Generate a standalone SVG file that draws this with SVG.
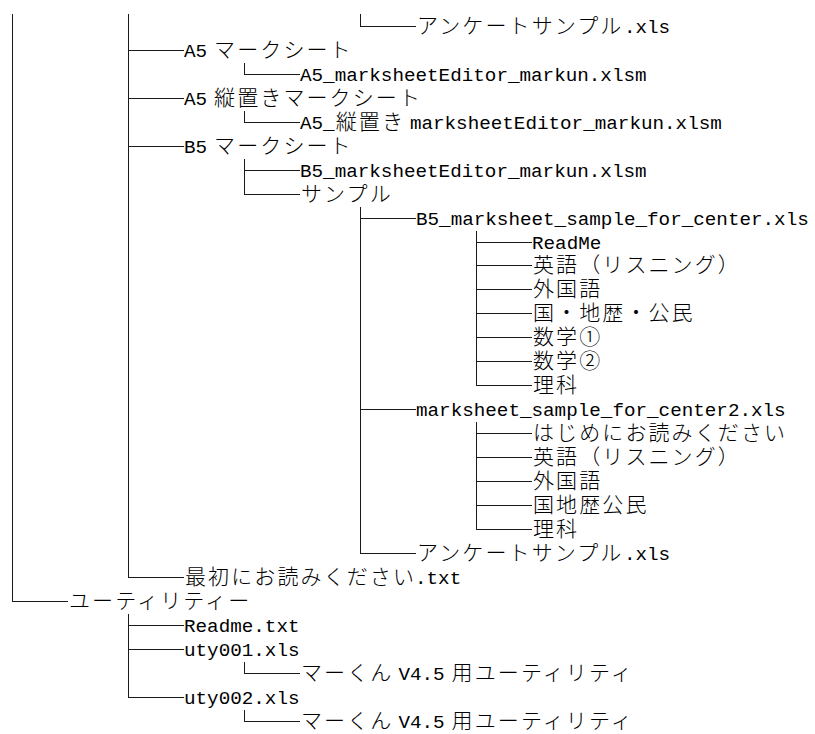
<svg xmlns="http://www.w3.org/2000/svg" width="815" height="734" viewBox="0 0 815 734">
<style>
  .bg { fill: #ffffff; }
  .c line { stroke: #1a1a1a; stroke-width: 1; fill: none; shape-rendering: crispEdges; }
  text { fill: #000000; }
  .l { font-family: "Liberation Mono", "DejaVu Sans Mono", monospace; font-size: 19.25px; }
  .j { font-family: "Noto Sans CJK JP", "Noto Sans CJK SC", sans-serif; font-size: 21px; letter-spacing: 2.1px; font-weight: 300; }
</style>
<rect class="bg" x="0" y="0" width="815" height="734"/>

<g id="connectors" class="c">
  <!-- vertical trunks -->
  <line x1="12.5" y1="14" x2="12.5" y2="601.5"/>
  <line x1="128.5" y1="14" x2="128.5" y2="577.5"/>
  <line x1="360.5" y1="14" x2="360.5" y2="26.5"/>
  <line x1="244.5" y1="63" x2="244.5" y2="74.5"/>
  <line x1="244.5" y1="111" x2="244.5" y2="122.5"/>
  <line x1="244.5" y1="159" x2="244.5" y2="194.5"/>
  <line x1="360.5" y1="207" x2="360.5" y2="553.5"/>
  <line x1="476.5" y1="231" x2="476.5" y2="385.5"/>
  <line x1="476.5" y1="422" x2="476.5" y2="529.5"/>
  <line x1="128.5" y1="614" x2="128.5" y2="697.5"/>
  <line x1="244.5" y1="662" x2="244.5" y2="673.5"/>
  <line x1="244.5" y1="710" x2="244.5" y2="721.5"/>
  <!-- horizontal branches -->
  <line x1="360.5" y1="26.5" x2="416" y2="26.5"/>
  <line x1="128.5" y1="50.5" x2="184" y2="50.5"/>
  <line x1="244.5" y1="74.5" x2="300" y2="74.5"/>
  <line x1="128.5" y1="98.5" x2="184" y2="98.5"/>
  <line x1="244.5" y1="122.5" x2="300" y2="122.5"/>
  <line x1="128.5" y1="146.5" x2="184" y2="146.5"/>
  <line x1="244.5" y1="170.5" x2="300" y2="170.5"/>
  <line x1="244.5" y1="194.5" x2="300" y2="194.5"/>
  <line x1="360.5" y1="218.5" x2="416" y2="218.5"/>
  <line x1="476.5" y1="242.5" x2="532" y2="242.5"/>
  <line x1="476.5" y1="265.5" x2="532" y2="265.5"/>
  <line x1="476.5" y1="289.5" x2="532" y2="289.5"/>
  <line x1="476.5" y1="313.5" x2="532" y2="313.5"/>
  <line x1="476.5" y1="337.5" x2="532" y2="337.5"/>
  <line x1="476.5" y1="361.5" x2="532" y2="361.5"/>
  <line x1="476.5" y1="385.5" x2="532" y2="385.5"/>
  <line x1="360.5" y1="409.5" x2="416" y2="409.5"/>
  <line x1="476.5" y1="433.5" x2="532" y2="433.5"/>
  <line x1="476.5" y1="457.5" x2="532" y2="457.5"/>
  <line x1="476.5" y1="481.5" x2="532" y2="481.5"/>
  <line x1="476.5" y1="505.5" x2="532" y2="505.5"/>
  <line x1="476.5" y1="529.5" x2="532" y2="529.5"/>
  <line x1="360.5" y1="553.5" x2="416" y2="553.5"/>
  <line x1="128.5" y1="577.5" x2="184" y2="577.5"/>
  <line x1="12.5" y1="601.5" x2="68" y2="601.5"/>
  <line x1="128.5" y1="625.5" x2="184" y2="625.5"/>
  <line x1="128.5" y1="649.5" x2="184" y2="649.5"/>
  <line x1="244.5" y1="673.5" x2="300" y2="673.5"/>
  <line x1="128.5" y1="697.5" x2="184" y2="697.5"/>
  <line x1="244.5" y1="721.5" x2="300" y2="721.5"/>
</g>

<g id="n00"><text y="33"><tspan class="j" x="417">アンケートサンプル</tspan><tspan class="l" x="623.9">.xls</tspan></text></g>
<g id="n01"><text y="57"><tspan class="l" x="184">A5</tspan><tspan class="j" x="214.1">マークシート</tspan></text></g>
<g id="n02"><text y="81"><tspan class="l" x="300">A5_marksheetEditor_markun.xlsm</tspan></text></g>
<g id="n03"><text y="105"><tspan class="l" x="184">A5</tspan><tspan class="j" x="214.1">縦置きマークシート</tspan></text></g>
<g id="n04"><text y="129"><tspan class="l" x="300">A5_</tspan><tspan class="j" x="335.7">縦置き</tspan><tspan class="l" x="409.9">marksheetEditor_markun.xlsm</tspan></text></g>
<g id="n05"><text y="153"><tspan class="l" x="184">B5</tspan><tspan class="j" x="214.1">マークシート</tspan></text></g>
<g id="n06"><text y="177"><tspan class="l" x="300">B5_marksheetEditor_markun.xlsm</tspan></text></g>
<g id="n07"><text y="201"><tspan class="j" x="301">サンプル</tspan></text></g>
<g id="n08"><text y="225"><tspan class="l" x="416">B5_marksheet_sample_for_center.xls</tspan></text></g>
<g id="n09"><text y="249"><tspan class="l" x="532">ReadMe</tspan></text></g>
<g id="n10"><text y="272"><tspan class="j" x="533">英語（リスニング）</tspan></text></g>
<g id="n11"><text y="296"><tspan class="j" x="533">外国語</tspan></text></g>
<g id="n12"><text y="320"><tspan class="j" x="533">国・地歴・公民</tspan></text></g>
<g id="n13"><text y="344"><tspan class="j" x="533">数学①</tspan></text></g>
<g id="n14"><text y="368"><tspan class="j" x="533">数学②</tspan></text></g>
<g id="n15"><text y="392"><tspan class="j" x="533">理科</tspan></text></g>
<g id="n16"><text y="416"><tspan class="l" x="416">marksheet_sample_for_center2.xls</tspan></text></g>
<g id="n17"><text y="440"><tspan class="j" x="533">はじめにお読みください</tspan></text></g>
<g id="n18"><text y="464"><tspan class="j" x="533">英語（リスニング）</tspan></text></g>
<g id="n19"><text y="488"><tspan class="j" x="533">外国語</tspan></text></g>
<g id="n20"><text y="512"><tspan class="j" x="533">国地歴公民</tspan></text></g>
<g id="n21"><text y="536"><tspan class="j" x="533">理科</tspan></text></g>
<g id="n22"><text y="560"><tspan class="j" x="417">アンケートサンプル</tspan><tspan class="l" x="623.9">.xls</tspan></text></g>
<g id="n23"><text y="584"><tspan class="j" x="185">最初にお読みください</tspan><tspan class="l" x="415">.txt</tspan></text></g>
<g id="n24"><text y="608"><tspan class="j" x="69">ユーティリティー</tspan></text></g>
<g id="n25"><text y="632"><tspan class="l" x="184">Readme.txt</tspan></text></g>
<g id="n26"><text y="656"><tspan class="l" x="184">uty001.xls</tspan></text></g>
<g id="n27"><text y="680"><tspan class="j" x="301">マーくん</tspan><tspan class="l" x="398.4">V4.5</tspan><tspan class="j" x="451.6">用ユーティリティ</tspan></text></g>
<g id="n28"><text y="704"><tspan class="l" x="184">uty002.xls</tspan></text></g>
<g id="n29"><text y="728"><tspan class="j" x="301">マーくん</tspan><tspan class="l" x="398.4">V4.5</tspan><tspan class="j" x="451.6">用ユーティリティ</tspan></text></g>
</svg>
